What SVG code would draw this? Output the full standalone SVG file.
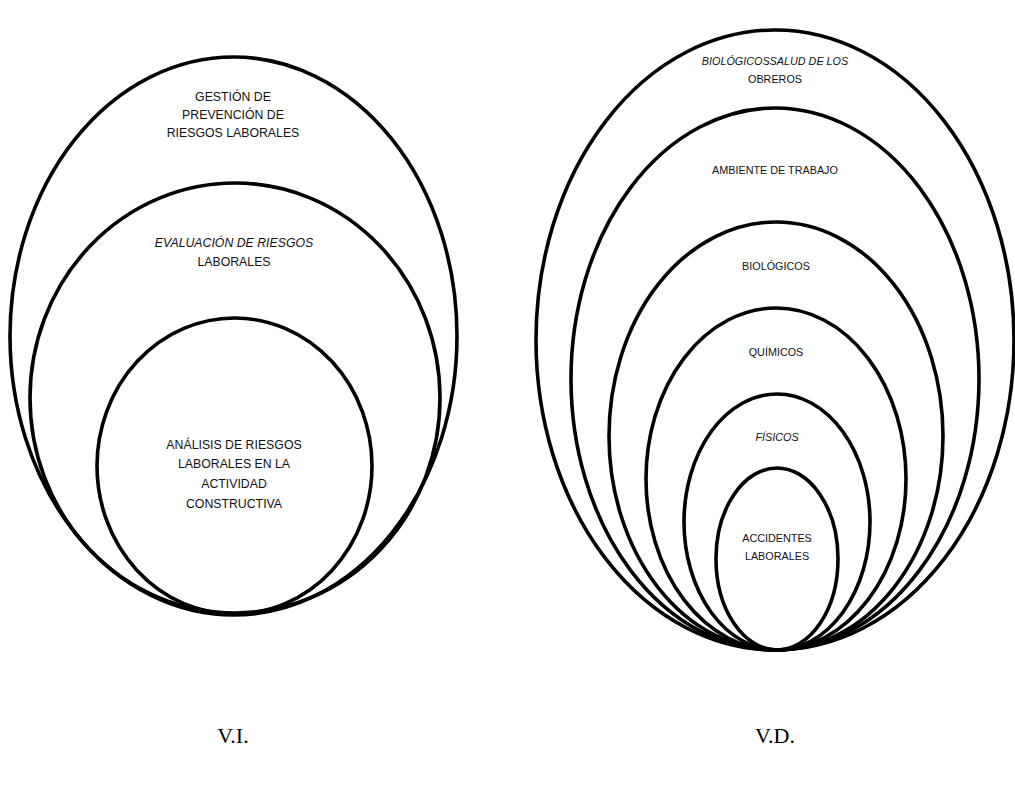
<svg xmlns="http://www.w3.org/2000/svg" width="1015" height="794" viewBox="0 0 1015 794">
<style>
.e{fill:none;stroke:#000;stroke-width:3.6}
.t{font-family:"Liberation Sans",Arial,sans-serif;font-size:12.3px;fill:#111;text-anchor:middle}
.s{font-size:10.8px}
.i{font-style:italic}
.v{font-family:"Liberation Serif","Times New Roman",serif;font-size:22px;fill:#000;text-anchor:middle}
</style>
<rect width="1015" height="794" fill="#fff"/>
<g id="vi">
<g id="gestion">
<ellipse class="e" cx="233.5" cy="336" rx="223.5" ry="279"/>
<text class="t" x="233" y="101">GESTIÓN DE</text>
<text class="t" x="233" y="119">PREVENCIÓN DE</text>
<text class="t" x="233" y="137">RIESGOS LABORALES</text>
</g>
<g id="evaluacion">
<ellipse class="e" cx="235" cy="398" rx="205" ry="215"/>
<text class="t i" x="234" y="247">EVALUACIÓN DE RIESGOS</text>
<text class="t" x="234" y="266">LABORALES</text>
</g>
<g id="analisis">
<ellipse class="e" cx="234.5" cy="466" rx="137.5" ry="148"/>
<text class="t" x="234" y="449">ANÁLISIS DE RIESGOS</text>
<text class="t" x="234" y="468">LABORALES EN LA</text>
<text class="t" x="234" y="488">ACTIVIDAD</text>
<text class="t" x="234" y="508">CONSTRUCTIVA</text>
</g>
<text class="v" x="233" y="743">V.I.</text>
</g>
<g id="vd">
<g id="salud">
<ellipse class="e" cx="775" cy="340" rx="239" ry="310"/>
<text class="t s i" x="775" y="65">BIOLÓGICOSSALUD DE LOS</text>
<text class="t s" x="775" y="83">OBREROS</text>
</g>
<g id="ambiente">
<ellipse class="e" cx="775" cy="379" rx="204" ry="271"/>
<text class="t s" x="775" y="174">AMBIENTE DE TRABAJO</text>
</g>
<g id="biologicos">
<ellipse class="e" cx="776" cy="436" rx="167" ry="214"/>
<text class="t s" x="776" y="270">BIOLÓGICOS</text>
</g>
<g id="quimicos">
<ellipse class="e" cx="776" cy="479" rx="130" ry="171"/>
<text class="t s" x="776" y="356">QUÍMICOS</text>
</g>
<g id="fisicos">
<ellipse class="e" cx="777" cy="522" rx="93" ry="128"/>
<text class="t s i" x="777" y="441">FÍSICOS</text>
</g>
<g id="accidentes">
<ellipse class="e" cx="777" cy="559" rx="61" ry="91"/>
<text class="t s" x="777" y="542">ACCIDENTES</text>
<text class="t s" x="777" y="560">LABORALES</text>
</g>
<text class="v" x="775" y="743">V.D.</text>
</g>
<g id="connectors"/>
</svg>
